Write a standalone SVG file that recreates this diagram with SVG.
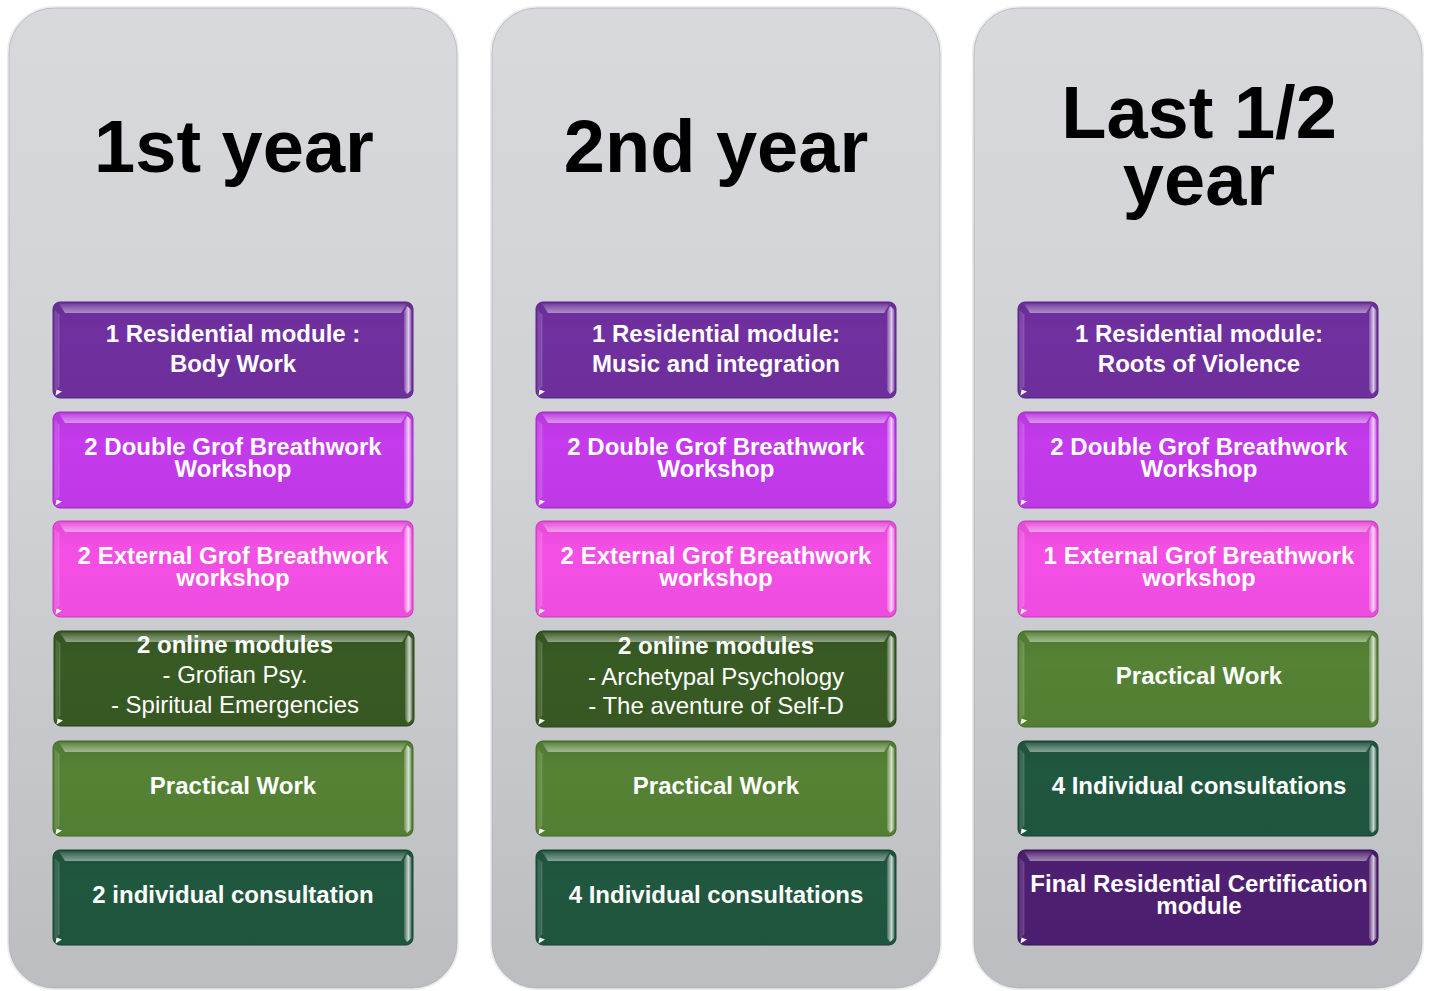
<svg xmlns="http://www.w3.org/2000/svg" width="1434" height="991" viewBox="0 0 1434 991">
  <defs>
    <linearGradient id="panelFill" x1="0" y1="0" x2="0" y2="1">
      <stop offset="0" stop-color="#d8d9dd"/>
      <stop offset="0.5" stop-color="#d0d1d5"/>
      <stop offset="1" stop-color="#bcbdc1"/>
    </linearGradient>
    <linearGradient id="topShine" x1="0" y1="0" x2="0" y2="1">
      <stop offset="0" stop-color="#ffffff" stop-opacity="0.08"/>
      <stop offset="0.55" stop-color="#ffffff" stop-opacity="0.3"/>
      <stop offset="1" stop-color="#ffffff" stop-opacity="0.45"/>
    </linearGradient>
    <linearGradient id="sideShine" x1="0" y1="0" x2="1" y2="0">
      <stop offset="0" stop-color="#ffffff" stop-opacity="0.15"/>
      <stop offset="0.6" stop-color="#ffffff" stop-opacity="0.75"/>
      <stop offset="1" stop-color="#ffffff" stop-opacity="0.2"/>
    </linearGradient>
    <linearGradient id="bodyShade" x1="0" y1="0" x2="0" y2="1">
      <stop offset="0" stop-color="#000000" stop-opacity="0.06"/>
      <stop offset="0.3" stop-color="#000000" stop-opacity="0"/>
      <stop offset="1" stop-color="#000000" stop-opacity="0.03"/>
    </linearGradient>
    <!-- glossy bevel laid over every 360x96 tile -->
    <g id="bevel">
      <rect x="0" y="0" width="360" height="96" rx="7" fill="url(#bodyShade)"/>
      <path d="M6,1.5 H354 L348,11 H12 Z" fill="url(#topShine)"/>
      <path d="M354,4 L358.5,8 V88 L354,92 L351,88 V10 Z" fill="url(#sideShine)"/>
      <path d="M1.5,8 L6,12 V85 L1.5,89 Z" fill="#ffffff" fill-opacity="0.12"/>
      <path d="M6,12 V85" stroke="#ffffff" stroke-opacity="0.15" stroke-width="1"/>
      <path d="M2.5,93.5 L3.5,87.5 L9,89.5 Z" fill="#ffffff" fill-opacity="0.95"/>
    </g>
  </defs>
  <style>
    .panel { fill: url(#panelFill); stroke: #eceded; stroke-width: 2; }
    .panelEdge { fill: none; stroke: #a9aaae; stroke-width: 1; stroke-opacity: 0.6; }
    .title { font-family: "Liberation Sans", Arial, sans-serif; font-weight: bold; font-size: 74px; fill: #000000; text-anchor: middle; }
    .lbl { font-family: "Liberation Sans", Arial, sans-serif; font-weight: bold; font-size: 24px; fill: #ffffff; text-anchor: middle; }
    .reg { font-weight: normal; }
    .purple { fill: #7030a0; stroke: #5a2484; }
    .violet { fill: #c43aec; stroke: #9d2bbd; }
    .pink { fill: #f44fe5; stroke: #c63dba; }
    .olive { fill: #385a23; stroke: #2b461b; }
    .green { fill: #558235; stroke: #44692a; }
    .teal { fill: #20573f; stroke: #184431; }
    .plum { fill: #4e1f72; stroke: #3d175a; }
  </style>

  <!-- column panels -->
  <g id="panels">
    <g id="panel-1">
      <rect class="panel" x="8" y="7" width="450" height="982" rx="46"/>
      <rect class="panelEdge" x="9" y="8" width="448" height="980" rx="45"/>
      <text class="title" x="234" y="172">1st year</text>
    </g>
    <g id="panel-2">
      <rect class="panel" x="491" y="7" width="450" height="982" rx="46"/>
      <rect class="panelEdge" x="492" y="8" width="448" height="980" rx="45"/>
      <text class="title" x="716" y="172">2nd year</text>
    </g>
    <g id="panel-3">
      <rect class="panel" x="973" y="7" width="450" height="982" rx="46"/>
      <rect class="panelEdge" x="974" y="8" width="448" height="980" rx="45"/>
      <text class="title" x="1199" y="138">Last 1/2</text>
      <text class="title" x="1199" y="205">year</text>
    </g>
  </g>

  <!-- first year -->
  <g id="y1-residential">
    <rect class="purple" x="53" y="302" width="360" height="96" rx="7"/>
    <use href="#bevel" x="53" y="302"/>
    <text class="lbl" x="233" y="342">1 Residential module :</text>
    <text class="lbl" x="233" y="372">Body Work</text>
  </g>
  <g id="y1-double">
    <rect class="violet" x="53" y="412" width="360" height="96" rx="7"/>
    <use href="#bevel" x="53" y="412"/>
    <text class="lbl" x="233" y="455">2 Double Grof Breathwork</text>
    <text class="lbl" x="233" y="477">Workshop</text>
  </g>
  <g id="y1-external">
    <rect class="pink" x="53" y="521" width="360" height="96" rx="7"/>
    <use href="#bevel" x="53" y="521"/>
    <text class="lbl" x="233" y="564">2 External Grof Breathwork</text>
    <text class="lbl" x="233" y="586">workshop</text>
  </g>
  <g id="y1-online">
    <rect class="olive" x="54" y="631" width="360" height="95" rx="7"/>
    <use href="#bevel" x="54" y="631"/>
    <text class="lbl" x="235" y="653">2 online modules</text>
    <text class="lbl reg" x="235" y="683">- Grofian Psy.</text>
    <text class="lbl reg" x="235" y="713">- Spiritual Emergencies</text>
  </g>
  <g id="y1-practical">
    <rect class="green" x="53" y="741" width="360" height="95" rx="7"/>
    <use href="#bevel" x="53" y="741"/>
    <text class="lbl" x="233" y="794">Practical Work</text>
  </g>
  <g id="y1-consult">
    <rect class="teal" x="53" y="850" width="360" height="95" rx="7"/>
    <use href="#bevel" x="53" y="850"/>
    <text class="lbl" x="233" y="903">2 individual consultation</text>
  </g>

  <!-- second year -->
  <g id="y2-residential">
    <rect class="purple" x="536" y="302" width="360" height="96" rx="7"/>
    <use href="#bevel" x="536" y="302"/>
    <text class="lbl" x="716" y="342">1 Residential module:</text>
    <text class="lbl" x="716" y="372">Music and integration</text>
  </g>
  <g id="y2-double">
    <rect class="violet" x="536" y="412" width="360" height="96" rx="7"/>
    <use href="#bevel" x="536" y="412"/>
    <text class="lbl" x="716" y="455">2 Double Grof Breathwork</text>
    <text class="lbl" x="716" y="477">Workshop</text>
  </g>
  <g id="y2-external">
    <rect class="pink" x="536" y="521" width="360" height="96" rx="7"/>
    <use href="#bevel" x="536" y="521"/>
    <text class="lbl" x="716" y="564">2 External Grof Breathwork</text>
    <text class="lbl" x="716" y="586">workshop</text>
  </g>
  <g id="y2-online">
    <rect class="olive" x="536" y="631" width="360" height="96" rx="7"/>
    <use href="#bevel" x="536" y="631"/>
    <text class="lbl" x="716" y="654">2 online modules</text>
    <text class="lbl reg" x="716" y="685">- Archetypal Psychology</text>
    <text class="lbl reg" x="716" y="714">- The aventure of Self-D</text>
  </g>
  <g id="y2-practical">
    <rect class="green" x="536" y="741" width="360" height="95" rx="7"/>
    <use href="#bevel" x="536" y="741"/>
    <text class="lbl" x="716" y="794">Practical Work</text>
  </g>
  <g id="y2-consult">
    <rect class="teal" x="536" y="850" width="360" height="95" rx="7"/>
    <use href="#bevel" x="536" y="850"/>
    <text class="lbl" x="716" y="903">4 Individual consultations</text>
  </g>

  <!-- last half year -->
  <g id="y3-residential">
    <rect class="purple" x="1018" y="302" width="360" height="96" rx="7"/>
    <use href="#bevel" x="1018" y="302"/>
    <text class="lbl" x="1199" y="342">1 Residential module:</text>
    <text class="lbl" x="1199" y="372">Roots of Violence</text>
  </g>
  <g id="y3-double">
    <rect class="violet" x="1018" y="412" width="360" height="96" rx="7"/>
    <use href="#bevel" x="1018" y="412"/>
    <text class="lbl" x="1199" y="455">2 Double Grof Breathwork</text>
    <text class="lbl" x="1199" y="477">Workshop</text>
  </g>
  <g id="y3-external">
    <rect class="pink" x="1018" y="521" width="360" height="96" rx="7"/>
    <use href="#bevel" x="1018" y="521"/>
    <text class="lbl" x="1199" y="564">1 External Grof Breathwork</text>
    <text class="lbl" x="1199" y="586">workshop</text>
  </g>
  <g id="y3-practical">
    <rect class="green" x="1018" y="631" width="360" height="96" rx="7"/>
    <use href="#bevel" x="1018" y="631"/>
    <text class="lbl" x="1199" y="684">Practical Work</text>
  </g>
  <g id="y3-consult">
    <rect class="teal" x="1018" y="741" width="360" height="95" rx="7"/>
    <use href="#bevel" x="1018" y="741"/>
    <text class="lbl" x="1199" y="794">4 Individual consultations</text>
  </g>
  <g id="y3-final">
    <rect class="plum" x="1018" y="850" width="360" height="95" rx="7"/>
    <use href="#bevel" x="1018" y="850"/>
    <text class="lbl" x="1199" y="892">Final Residential Certification</text>
    <text class="lbl" x="1199" y="914">module</text>
  </g>

  <!-- no connectors in this layout -->
  <g id="connectors"/>
</svg>
